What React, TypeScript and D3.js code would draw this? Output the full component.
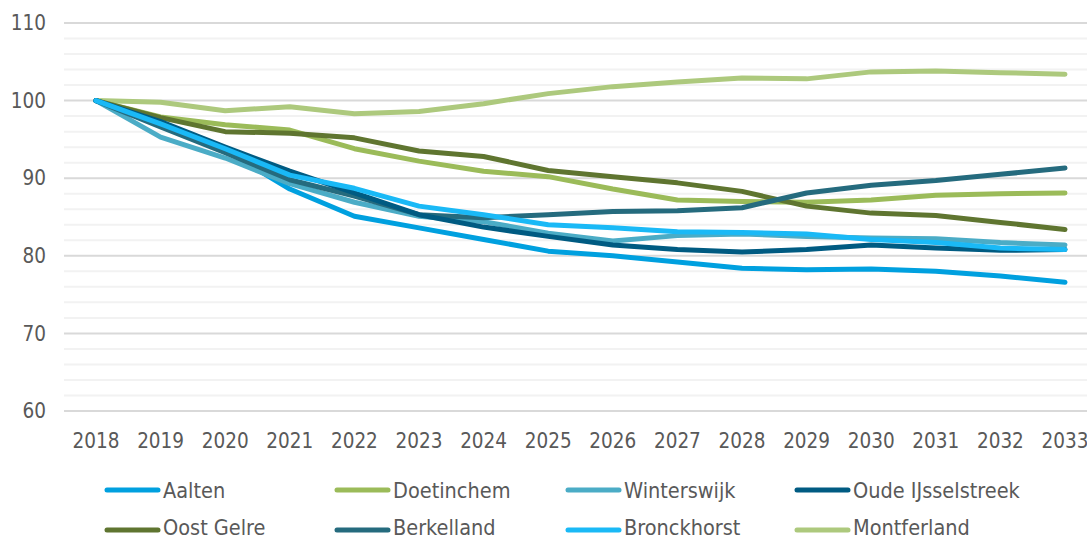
import React from 'react';
import * as d3 from 'd3';

const years = ['2018', '2019', '2020', '2021', '2022', '2023', '2024', '2025', '2026', '2027', '2028', '2029', '2030', '2031', '2032', '2033'];

const aalten = [100, 96.9, 93.6, 88.6, 85.1, 83.6, 82.1, 80.6, 80.0, 79.2, 78.4, 78.2, 78.3, 78.0, 77.4, 76.6];
const doetinchem = [100, 97.9, 96.9, 96.2, 93.8, 92.2, 90.9, 90.2, 88.6, 87.2, 87.0, 86.9, 87.2, 87.8, 88.0, 88.1];
const winterswijk = [100, 95.3, 92.6, 89.3, 86.9, 85.1, 84.4, 82.9, 81.9, 82.6, 82.8, 82.5, 82.3, 82.2, 81.7, 81.4];
const oudeIJsselstreek = [100, 97.3, 94.0, 90.9, 88.1, 85.3, 83.7, 82.5, 81.4, 80.8, 80.5, 80.8, 81.4, 81.0, 80.7, 80.8];
const oostGelre = [100, 97.8, 96.0, 95.8, 95.2, 93.5, 92.8, 91.0, 90.2, 89.4, 88.3, 86.4, 85.5, 85.2, 84.3, 83.4];
const berkelland = [100, 96.6, 93.3, 89.8, 87.7, 85.3, 84.9, 85.3, 85.7, 85.8, 86.2, 88.1, 89.1, 89.7, 90.5, 91.3];
const bronckhorst = [100, 97.0, 93.8, 90.4, 88.7, 86.4, 85.3, 84.0, 83.6, 83.1, 83.0, 82.8, 82.1, 81.7, 81.0, 80.8];
const montferland = [100, 99.8, 98.7, 99.2, 98.3, 98.6, 99.6, 100.9, 101.8, 102.4, 102.9, 102.8, 103.7, 103.8, 103.6, 103.4];

const yTicks = [60, 70, 80, 90, 100, 110];

const series = [
  { name: 'Aalten', values: aalten, color: '#00a0df' },
  { name: 'Doetinchem', values: doetinchem, color: '#9bbb59' },
  { name: 'Winterswijk', values: winterswijk, color: '#4bacc6' },
  { name: 'Oude IJsselstreek', values: oudeIJsselstreek, color: '#005b82' },
  { name: 'Oost Gelre', values: oostGelre, color: '#5f7530' },
  { name: 'Berkelland', values: berkelland, color: '#256b7e' },
  { name: 'Bronckhorst', values: bronckhorst, color: '#1ab9f6' },
  { name: 'Montferland', values: montferland, color: '#adc97d' },
];

// draw order: later ones on top
const drawOrder = ['Montferland', 'Doetinchem', 'Oost Gelre', 'Aalten', 'Winterswijk', 'Berkelland', 'Oude IJsselstreek', 'Bronckhorst'];

const font = '"DejaVu Sans Condensed", "DejaVu Sans", sans-serif';

export default function App() {
  const width = 1087;
  const height = 541;

  const x = d3.scalePoint<string>().domain(years).range([96, 1065]);
  const y = d3.scaleLinear().domain([60, 110]).range([411, 23]);

  const minor = d3.range(60, 111, 2).filter((v) => v % 10 !== 0);

  const line = d3
    .line<number>()
    .x((_, i) => x(years[i]) as number)
    .y((d) => y(d));

  const legendCols = [107, 337, 568, 797];
  const legendRows = [490, 530];

  return (
    <svg width={width} height={height} style={{ position: 'absolute', left: 0, top: 0, background: '#fff' }} fontFamily={font}>
      <g>
        {minor.map((v) => (
          <line key={'m' + v} x1={64} x2={width} y1={y(v)} y2={y(v)} stroke="#f2f2f2" strokeWidth={2} />
        ))}
        {yTicks.map((v) => (
          <line key={'g' + v} x1={64} x2={width} y1={y(v)} y2={y(v)} stroke="#d9d9d9" strokeWidth={2} />
        ))}
      </g>
      <g fill="#595959" fontSize={20.5} fontStretch="condensed">
        {yTicks.map((v) => (
          <text key={'t' + v} x={46} y={y(v)} dy="0.35em" textAnchor="end">
            {v}
          </text>
        ))}
        {years.map((yr) => (
          <text key={yr} x={x(yr) as number} y={448} textAnchor="middle">
            {yr}
          </text>
        ))}
      </g>
      <g fill="none" strokeWidth={5} strokeLinecap="round" strokeLinejoin="round">
        {drawOrder.map((n) => {
          const s = series.find((d) => d.name === n)!;
          return <path key={n} d={line(s.values) || ''} stroke={s.color} />;
        })}
      </g>
      <g fontSize={21.5} fill="#595959" fontStretch="condensed">
        {series.map((s, i) => {
          const lx = legendCols[i % 4];
          const row = Math.floor(i / 4);
          const ly = legendRows[row];
          return (
            <g key={s.name}>
              <line x1={lx} x2={lx + 51} y1={ly} y2={ly} stroke={s.color} strokeWidth={5} strokeLinecap="round" />
              <text x={lx + 56} y={row === 0 ? ly + 7.5 : 535}>
                {s.name}
              </text>
            </g>
          );
        })}
      </g>
    </svg>
  );
}
